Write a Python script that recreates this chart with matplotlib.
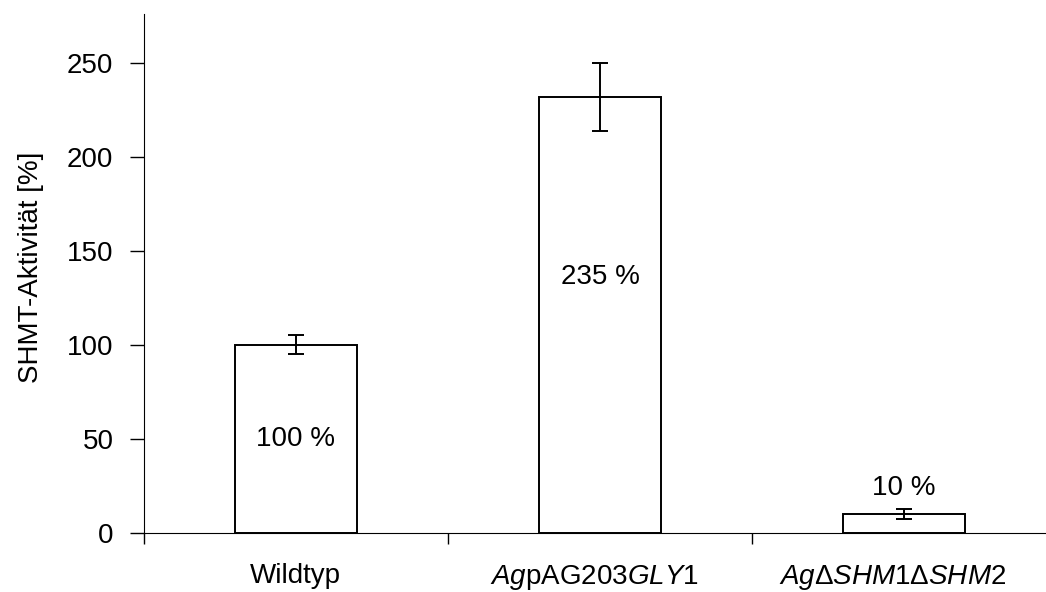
import matplotlib.pyplot as plt
import matplotlib.transforms as mtransforms
import numpy as np

plt.rcParams['font.family'] = ['Liberation Sans', 'DejaVu Sans']
plt.rcParams['mathtext.fontset'] = 'custom'
plt.rcParams['mathtext.rm'] = 'Liberation Sans'
plt.rcParams['mathtext.it'] = 'Liberation Sans:italic'

categories = ['Wildtyp',
              r'$\mathit{Ag}\mathrm{pAG203}\mathit{GLY}\mathrm{1}$',
              r'$\mathit{Ag}\mathrm{\Delta}\mathit{SHM}\mathrm{1}\mathrm{\Delta}\mathit{SHM}\mathrm{2}$']
activity = [100, 232, 10]
errors = [5, 18, 2.5]
bar_labels = ['100 %', '235 %', '10 %']
label_y = [50, 136, 24]

fig = plt.figure(figsize=(10.46, 5.92), dpi=100)
ax = fig.add_axes([144 / 1046, 59.3 / 592, 912 / 1046, 518.7 / 592])

x = np.arange(len(categories))
ax.bar(x, activity, width=0.4, color='white', edgecolor='black', linewidth=1.4, zorder=2)
ax.errorbar(x, activity, yerr=errors, fmt='none', ecolor='black',
            elinewidth=1.4, capsize=5.5, capthick=1.4, zorder=3)

for xi, yi, txt in zip(x, label_y, bar_labels):
    ax.text(xi, yi, txt, ha='center', va='center', fontsize=20)

ax.set_xlim(-0.5, 2.5)
ax.set_ylim(0, 276)
ax.set_yticks([0, 50, 100, 150, 200, 250])
ax.set_xticks(x)
ax.set_xticklabels(categories, fontsize=20)
ax.set_xticks([-0.5, 0.5, 1.5, 2.5], minor=True)
ax.tick_params(axis='x', which='major', length=0, pad=22)
ax.tick_params(axis='x', which='minor', length=8, width=1, direction='out')
ax.tick_params(axis='y', length=10, width=1, direction='out', labelsize=20, pad=12)
ax.set_ylabel('SHMT-Aktivität [%]', fontsize=20)
ax.yaxis.set_label_coords(-0.11, 0.512)

# small horizontal nudges of the category labels, as in the original
for lab, dx in zip(ax.get_xticklabels(), [-1, -6, -11]):
    lab.set_transform(lab.get_transform() +
                      mtransforms.ScaledTranslation(dx / 100, 0, fig.dpi_scale_trans))

ax.spines['top'].set_visible(False)
ax.spines['right'].set_visible(False)

plt.savefig('out.png', dpi=100)
